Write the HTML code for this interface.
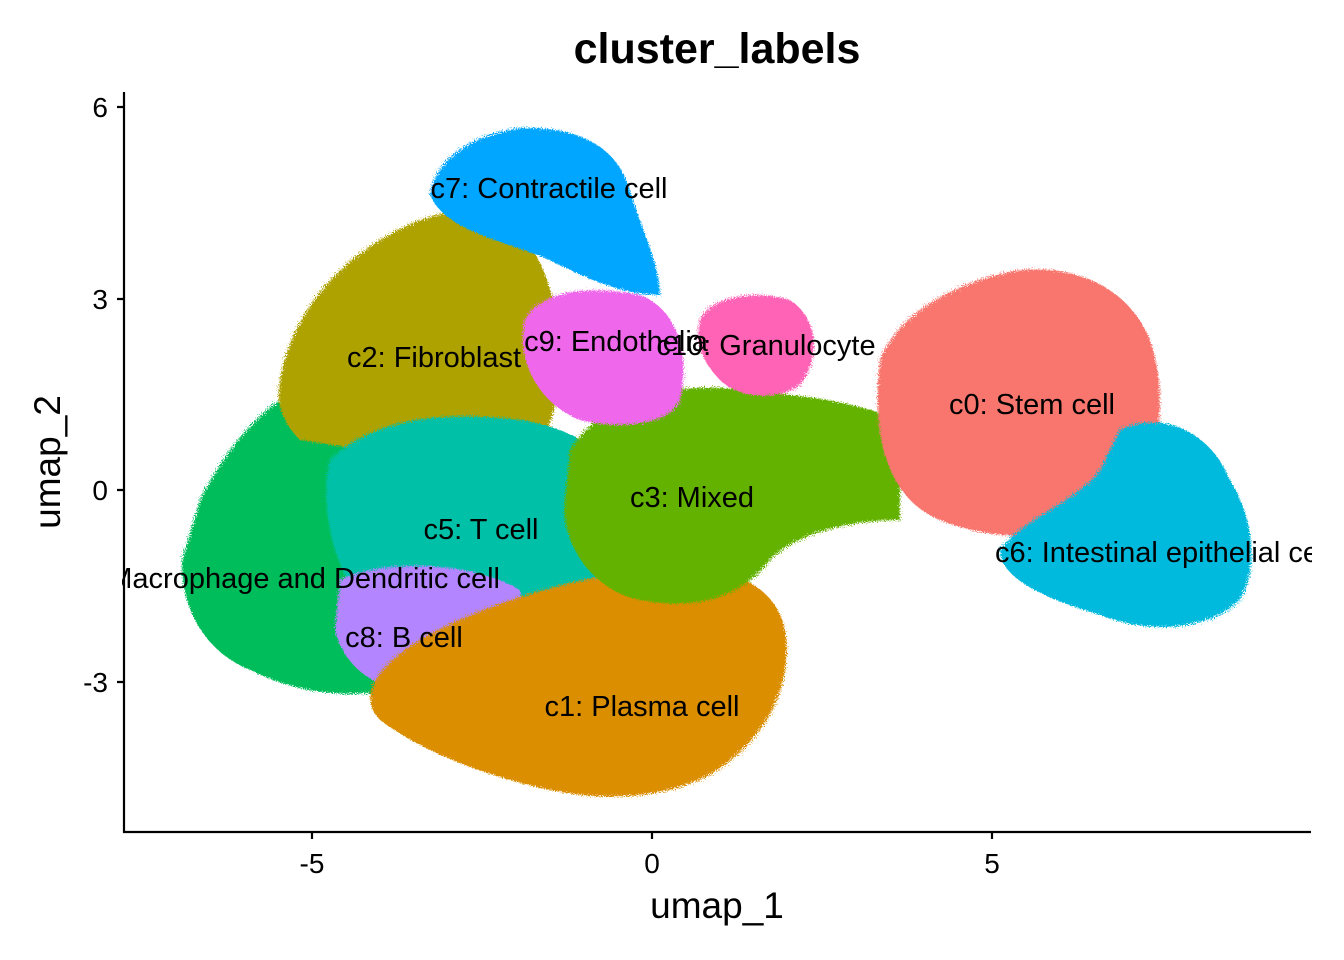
<!DOCTYPE html>
<html><head><style>
body{margin:0;background:#fff;}
svg{display:block;font-family:"Liberation Sans",sans-serif;}
</style></head><body>
<svg width="1344" height="960" viewBox="0 0 1344 960">
<defs>
<filter id="r" x="-10%" y="-10%" width="120%" height="120%">
<feTurbulence type="fractalNoise" baseFrequency="0.9" numOctaves="1" seed="3" result="n"/>
<feDisplacementMap in="SourceGraphic" in2="n" scale="10"/>
</filter>
<clipPath id="cp"><rect x="124" y="80" width="1186" height="752"/></clipPath>
</defs>
<g clip-path="url(#cp)" filter="url(#r)">
<path d="M200,500 C230,440 270,400 300,390 L380,420 L390,690 C340,700 290,690 250,670 C200,650 180,600 182,560 Z" fill="#00BD5C"/>
<path d="M280,380 C290,320 330,270 380,240 C420,215 460,205 500,215 C540,240 560,300 560,360 C560,420 540,460 500,470 L300,440 C280,420 276,400 280,380 Z" fill="#AEA200"/>
<path d="M330,460 C370,420 440,410 520,420 C590,430 630,470 630,520 C630,580 580,610 520,620 L360,600 C330,560 320,500 330,460 Z" fill="#00C1A7"/>
<path d="M340,580 C380,560 470,560 520,590 C530,640 490,680 430,690 C380,695 345,670 335,630 Z" fill="#B385FF"/>
<path d="M420,640 C470,610 560,580 640,570 C720,560 775,580 785,630 C795,690 760,750 700,780 C650,800 600,800 550,790 C480,775 420,750 380,720 C360,700 370,670 420,640 Z" fill="#DB8E00"/>
<path d="M570,450 C600,400 680,380 740,390 C800,395 850,400 900,420 L900,520 C860,520 800,530 770,560 C740,600 690,610 640,600 C590,590 560,540 565,500 Z" fill="#64B200"/>
<path d="M525,320 C540,290 590,285 640,295 C680,310 690,360 680,400 C670,425 620,430 580,420 C540,405 515,360 525,320 Z" fill="#EF67EB"/>
<path d="M700,320 C710,295 760,290 790,300 C820,320 820,360 800,385 C780,400 740,400 720,380 C700,360 695,340 700,320 Z" fill="#FF63B6"/>
<path d="M430,195 C435,160 470,135 520,128 C575,126 615,145 628,185 C640,225 660,265 660,295 C620,295 580,275 545,258 C500,240 445,230 430,195 Z" fill="#00A6FF"/>
<path d="M880,360 C900,310 960,280 1020,270 C1080,265 1130,290 1150,340 C1170,400 1160,470 1120,510 C1080,540 1000,545 940,520 C890,500 870,440 880,360 Z" fill="#F8766D"/>
<path d="M1120,430 C1160,410 1210,430 1230,480 C1255,520 1258,570 1240,600 C1210,630 1150,635 1100,615 C1050,600 1000,580 1000,550 C1020,520 1080,500 1100,470 Z" fill="#00BADE"/>
</g>
<g font-size="29" fill="#000">
<text x="549" y="198" text-anchor="middle">c7: Contractile cell</text>
<text x="434" y="367" text-anchor="middle">c2: Fibroblast</text>
<text x="616" y="351" text-anchor="middle">c9: Endothelia</text>
<text x="766" y="355" text-anchor="middle">c10: Granulocyte</text>
<text x="1032" y="414" text-anchor="middle">c0: Stem cell</text>
<text x="692" y="507" text-anchor="middle">c3: Mixed</text>
<text x="481" y="539" text-anchor="middle">c5: T cell</text>
<text x="500" y="588" text-anchor="end">c4: Macrophage and Dendritic cell</text>
<text x="404" y="647" text-anchor="middle">c8: B cell</text>
<text x="642" y="716" text-anchor="middle">c1: Plasma cell</text>
<text x="995" y="562">c6: Intestinal epithelial cell</text>
</g>
<rect x="0" y="555" width="122" height="45" fill="#fff"/>
<rect x="1312" y="520" width="40" height="60" fill="#fff"/>
<g stroke="#000" stroke-width="2.2" fill="none">
<path d="M124,92 V832 H1311"/>
<path d="M117,107 H124 M117,299 H124 M117,490 H124 M117,682 H124"/>
<path d="M312,832 V839 M652,832 V839 M992,832 V839"/>
</g>
<g font-size="28" fill="#000">
<text x="108" y="117" text-anchor="end">6</text>
<text x="108" y="309" text-anchor="end">3</text>
<text x="108" y="500" text-anchor="end">0</text>
<text x="108" y="692" text-anchor="end">-3</text>
<text x="312" y="873" text-anchor="middle">-5</text>
<text x="652" y="873" text-anchor="middle">0</text>
<text x="992" y="873" text-anchor="middle">5</text>
</g>
<text x="717" y="918" font-size="37" text-anchor="middle">umap_1</text>
<text transform="translate(60,462) rotate(-90)" font-size="37" text-anchor="middle">umap_2</text>
<text x="717" y="63" font-size="43" font-weight="bold" text-anchor="middle">cluster_labels</text>
</svg>
</body></html>
